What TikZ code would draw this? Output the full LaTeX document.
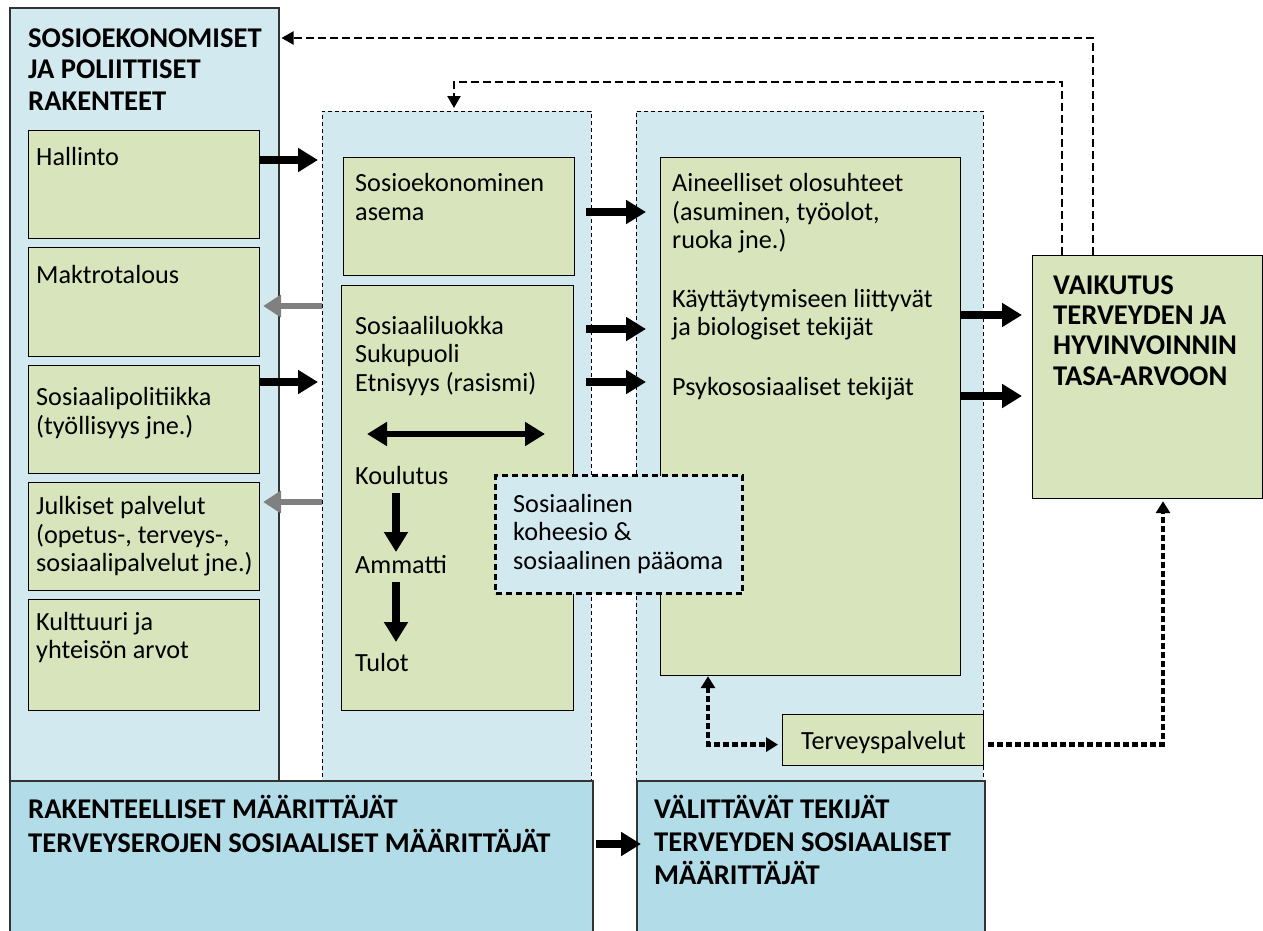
\documentclass[tikz,border=0pt]{standalone}
\usepackage{fontspec}
\setmainfont{Carlito}
\usetikzlibrary{arrows.meta}

\definecolor{paleblue}{HTML}{D2E9F0}
\definecolor{deepblue}{HTML}{B2DDE8}
\definecolor{olivebox}{HTML}{D8E4BC}
\definecolor{edge}{HTML}{333333}
\definecolor{greyarrow}{HTML}{808080}

\begin{document}
\begin{tikzpicture}[x=1pt,y=-1pt,
  panel/.style={draw=edge, line width=1.5pt, fill=paleblue, inner sep=0pt, anchor=north west},
  group/.style={draw=black, line width=0.9pt, dash pattern=on 4pt off 3pt, fill=paleblue, inner sep=0pt, anchor=north west},
  header/.style={draw=edge, line width=1.5pt, fill=deepblue, inner sep=0pt, anchor=north west},
  factor/.style={draw=black, line width=1.2pt, fill=olivebox, inner sep=0pt, anchor=north west},
  cohesion/.style={draw=black, line width=3pt, dash pattern=on 6pt off 4pt, fill=paleblue, inner sep=0pt, anchor=north west},
  % multi-line nodes: the base anchor sits on the last line
  txt/.style={anchor=base west, align=left, inner sep=0pt, font=\fontsize{26.2}{28.5}\selectfont},
  bold/.style={anchor=base west, align=left, inner sep=0pt, font=\fontsize{28.6}{31.3}\selectfont\bfseries},
  blockarrow/.style={line width=8pt, -{Triangle[length=20pt,width=23pt]}},
  greyblock/.style={draw=greyarrow, line width=5.5pt, -{Triangle[length=18pt,width=22pt]}},
  twoway/.style={line width=6.5pt, {Triangle[length=20pt,width=23pt]}-{Triangle[length=20pt,width=23pt]}},
  feedback/.style={line width=2.2pt, dash pattern=on 8pt off 4pt, -{Triangle[length=12pt,width=13pt]}},
  dotted link/.style={line width=4.5pt, dash pattern=on 6pt off 3pt},
]
\useasboundingbox (0,0) rectangle (1263,930);

% large containers
\node[panel, minimum width=269pt, minimum height=773pt] (socpol) at (9,7) {};
\node[group, minimum width=269pt, minimum height=669pt] (midc) at (322,111) {};
\node[group, minimum width=347pt, minimum height=669pt] (rightc) at (636,111) {};

% headers along the bottom
\node[header, minimum width=583pt, minimum height=160pt] (rakent) at (9,780) {};
\node[header, minimum width=348pt, minimum height=160pt] (valitt) at (636,780) {};

% structural factors
\node[factor, minimum width=231pt, minimum height=108pt] (hallinto) at (28,130) {};
\node[factor, minimum width=231pt, minimum height=109pt] (makro) at (28,247) {};
\node[factor, minimum width=231pt, minimum height=108pt] (sospol) at (28,365) {};
\node[factor, minimum width=231pt, minimum height=108pt] (julk) at (28,482) {};
\node[factor, minimum width=231pt, minimum height=111pt] (kult) at (28,599) {};

% socioeconomic position
\node[factor, minimum width=231pt, minimum height=118pt] (asema) at (343,157) {};
\node[factor, minimum width=232pt, minimum height=425pt] (luokka) at (341,285) {};

% intermediary factors
\node[factor, minimum width=300pt, minimum height=518pt] (aine) at (660,157) {};
\node[factor, minimum width=201pt, minimum height=51pt] (terv) at (782,714) {};

% outcome
\node[factor, minimum width=230pt, minimum height=243pt] (vaik) at (1032,255) {};

% social cohesion
\node[cohesion, minimum width=247pt, minimum height=118pt] (kohe) at (494,474) {};

% texts (positions give the baseline of the last line)
\node[bold] (socpol-t) at (28,110) {SOSIOEKONOMISET\\JA POLIITTISET\\RAKENTEET};
\node[txt] (hallinto-t) at (36,165.5) {Hallinto};
\node[txt] (makro-t) at (36,283) {Maktrotalous};
\node[txt] (sospol-t) at (36,434) {Sosiaalipolitiikka\\(työllisyys jne.)};
\node[txt] (julk-t) at (36,571.5) {Julkiset palvelut\\(opetus-, terveys-,\\sosiaalipalvelut jne.)};
\node[txt] (kult-t) at (36,658.5) {Kulttuuri ja\\yhteisön arvot};
\node[txt] (asema-t) at (355,220) {Sosioekonominen\\asema};
\node[txt] (luokka-t) at (355,391) {Sosiaaliluokka\\Sukupuoli\\Etnisyys (rasismi)};
\node[txt] (koul) at (355,484) {Koulutus};
\node[txt] (amm) at (355,573) {Ammatti};
\node[txt] (tulot) at (355,671) {Tulot};
\node[txt] (kohe-t) at (513,569) {Sosiaalinen\\koheesio \&\\sosiaalinen pääoma};
\node[txt] (aine-t1) at (672,248.5) {Aineelliset olosuhteet\\(asuminen, työolot,\\ruoka jne.)};
\node[txt] (aine-t2) at (672,335.5) {Käyttäytymiseen liittyvät\\ja biologiset tekijät};
\node[txt] (aine-t3) at (672,395) {Psykososiaaliset tekijät};
\node[txt] (terv-t) at (801,749) {Terveyspalvelut};
\node[bold, font=\fontsize{28.6}{30.2}\selectfont\bfseries] (vaik-t) at (1053,385) {VAIKUTUS\\TERVEYDEN JA\\HYVINVOINNIN\\TASA-ARVOON};
\node[bold, font=\fontsize{28.6}{34}\selectfont\bfseries] (rakent-t) at (28,852) {RAKENTEELLISET MÄÄRITTÄJÄT\\TERVEYSEROJEN SOSIAALISET MÄÄRITTÄJÄT};
\node[bold, font=\fontsize{28.6}{33}\selectfont\bfseries] (valitt-t) at (654,884) {VÄLITTÄVÄT TEKIJÄT\\TERVEYDEN SOSIAALISET\\MÄÄRITTÄJÄT};

% structural factors -> socioeconomic position
\draw[blockarrow] ([shift={(0,30)}]hallinto.north east) -- ([shift={(-4,49)}]midc.north west);
\draw[blockarrow] ([shift={(0,17)}]sospol.north east) -- ([shift={(-4,271)}]midc.north west);
\draw[greyblock] ([shift={(0,195)}]midc.north west) -- ([shift={(3,59)}]makro.north east);
\draw[greyblock] ([shift={(0,391)}]midc.north west) -- ([shift={(3,20)}]julk.north east);

% socioeconomic position -> intermediary factors
\draw[blockarrow] ([shift={(11,55)}]asema.north east) -- ([shift={(-14,55)}]aine.north west);
\draw[blockarrow] ([shift={(12,44)}]luokka.north east) -- ([shift={(-14,172)}]aine.north west);
\draw[blockarrow] ([shift={(12,97)}]luokka.north east) -- ([shift={(-14,225)}]aine.north west);

% intermediary factors -> outcome
\draw[blockarrow] ([shift={(0,158)}]aine.north east) -- ([shift={(-10,60)}]vaik.north west);
\draw[blockarrow] ([shift={(0,239)}]aine.north east) -- ([shift={(-10,141)}]vaik.north west);

% inside the class box
\draw[twoway] ([shift={(26,149)}]luokka.north west) -- ([shift={(204,149)}]luokka.north west);
\draw[blockarrow] ([shift={(41,9)}]koul.base west) -- ([shift={(41,-21)}]amm.base west);
\draw[blockarrow] ([shift={(41,9)}]amm.base west) -- ([shift={(41,-29)}]tulot.base west);

% feedback loops
\draw[feedback] ([shift={(61,0)}]vaik.north west) |- ([shift={(2,31)}]socpol.north east);
\draw[feedback] ([shift={(30,0)}]vaik.north west) |- ([shift={(132,-29)}]midc.north west) -- ([shift={(132,-3)}]midc.north west);

% health services
\draw[dotted link, {Triangle[length=12pt,width=14pt]}-{Triangle[length=12pt,width=14pt]}] ([shift={(48,0)}]aine.south west) |- ([shift={(-4,4.5)}]terv.west);
\draw[dotted link, -{Triangle[length=12pt,width=14pt]}] ([shift={(4,4.5)}]terv.east) -| ([shift={(131,2)}]vaik.south west);

% bottom headers
\draw[blockarrow] ([shift={(2,64)}]rakent.north east) -- ([shift={(5,64)}]valitt.north west);
\end{tikzpicture}
\end{document}
